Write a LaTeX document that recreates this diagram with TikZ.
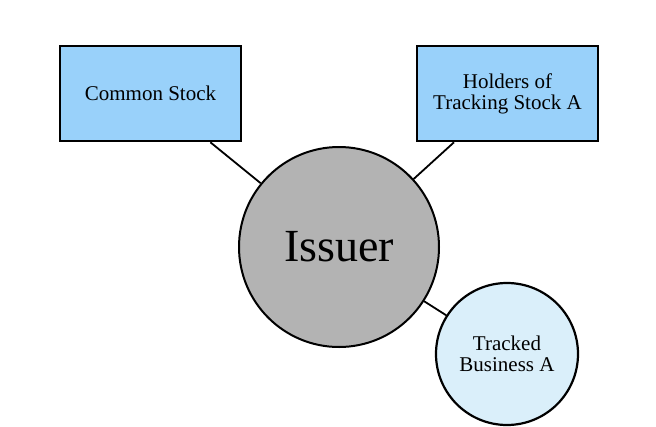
\documentclass[tikz,border=0pt]{standalone}
\usepackage{fontspec}
\setmainfont{Liberation Serif}
\definecolor{boxblue}{RGB}{153,209,250}
\definecolor{issuergray}{RGB}{179,179,179}
\definecolor{trackblue}{RGB}{218,239,250}
\begin{document}
\begin{tikzpicture}[x=1pt,y=-1pt,
  holderbox/.style={draw=black, line width=2.6pt, fill=boxblue, rectangle,
    minimum width=181pt, minimum height=95pt, inner sep=0pt, align=center,
    font=\fontsize{21}{21}\selectfont},
  issuercirc/.style={draw=black, line width=2pt, fill=issuergray, circle,
    minimum size=200pt, inner sep=0pt, font=\fontsize{46}{46}\selectfont},
  trackcirc/.style={draw=black, line width=2.2pt, fill=trackblue, circle,
    minimum size=142pt, inner sep=0pt, align=center,
    font=\fontsize{21}{21}\selectfont},
  link/.style={draw=black, line width=1.8pt}]
\useasboundingbox (0,0) rectangle (656,426);
\fill[white] (0,0) rectangle (656,426);
\node[holderbox] (common) at (150.5,93.5) {Common Stock};
\node[holderbox] (holders) at (507.5,93.5) {Holders of\\Tracking Stock A};
\node[issuercirc] (issuer) at (339,247) {Issuer};
\node[trackcirc] (tracked) at (507,354) {Tracked\\Business A};
\draw[link] (common) -- (issuer);
\draw[link] (holders) -- (issuer);
\draw[link] (issuer) -- (tracked);
\end{tikzpicture}
\end{document}
